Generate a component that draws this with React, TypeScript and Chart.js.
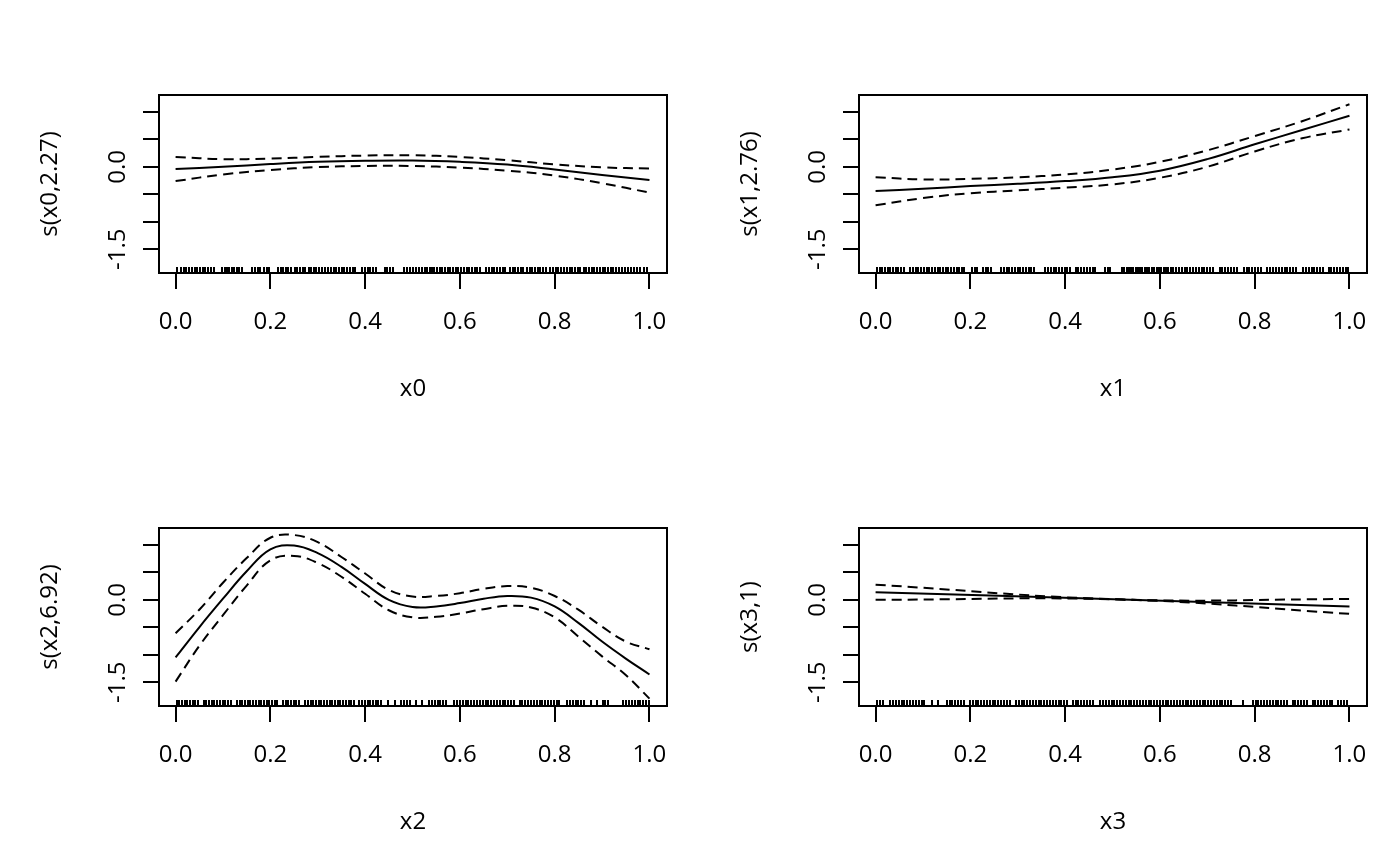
import React, { useEffect, useRef } from 'react';
import { Chart, registerables } from 'chart.js';

Chart.register(...registerables);

// ---------- data ----------
const X_TICKS = [0, 0.2, 0.4, 0.6, 0.8, 1.0];
const Y_TICKS = [-1.5, -1.0, -0.5, 0.0, 0.5, 1.0];
const Y_TICK_LABELS = ['-1.5', '', '', '0.0', '', ''];
const X_MIN = -0.035;
const X_MAX = 1.037;
const Y_MIN = -1.934;
const Y_MAX = 1.308;

// s(x0, 2.27)
const X0_GRID = [0, 0.1, 0.2, 0.3, 0.4, 0.5, 0.6, 0.7, 0.8, 0.9, 1.0];
const X0_FIT = [-0.04, 0.0, 0.05, 0.09, 0.11, 0.115, 0.09, 0.04, -0.05, -0.15, -0.24];
const X0_UPPER = [0.18, 0.14, 0.15, 0.18, 0.205, 0.21, 0.18, 0.12, 0.045, -0.01, -0.03];
const X0_LOWER = [-0.26, -0.14, -0.06, -0.005, 0.015, 0.015, -0.015, -0.07, -0.16, -0.3, -0.47];

// s(x1, 2.76)
const X1_GRID = [0, 0.1, 0.2, 0.3, 0.4, 0.5, 0.6, 0.7, 0.8, 0.9, 1.0];
const X1_FIT = [-0.44, -0.4, -0.35, -0.31, -0.26, -0.19, -0.07, 0.14, 0.41, 0.67, 0.93];
const X1_UPPER = [-0.19, -0.23, -0.22, -0.19, -0.14, -0.05, 0.09, 0.3, 0.56, 0.83, 1.14];
const X1_LOWER = [-0.7, -0.57, -0.48, -0.43, -0.38, -0.32, -0.2, 0.0, 0.28, 0.52, 0.68];

// s(x2, 6.92)
const X2_GRID = [0, 0.05, 0.1, 0.15, 0.2, 0.25, 0.3, 0.35, 0.4, 0.45, 0.5, 0.55, 0.6, 0.65, 0.7, 0.75, 0.8, 0.85, 0.9, 0.95, 1.0];
const X2_FIT = [-1.05, -0.5, 0.02, 0.52, 0.92, 0.99, 0.85, 0.6, 0.29, 0.0, -0.13, -0.12, -0.06, 0.02, 0.07, 0.04, -0.12, -0.42, -0.76, -1.07, -1.36];
const X2_UPPER = [-0.61, -0.18, 0.31, 0.76, 1.13, 1.18, 1.05, 0.78, 0.48, 0.18, 0.06, 0.07, 0.12, 0.2, 0.25, 0.22, 0.07, -0.18, -0.49, -0.76, -0.9];
const X2_LOWER = [-1.49, -0.84, -0.28, 0.26, 0.72, 0.8, 0.67, 0.42, 0.11, -0.19, -0.32, -0.31, -0.25, -0.17, -0.11, -0.14, -0.32, -0.67, -1.03, -1.37, -1.8];

// s(x3, 1)
const X3_GRID = [0, 0.52, 1.0];
const X3_FIT = [0.14, 0.005, -0.12];
const X3_UPPER = [0.275, 0.005, 0.015];
const X3_LOWER = [0.0, 0.005, -0.255];

// rug (observed covariate values)
const RUG_X0 = [0.004,0.011,0.018,0.022,0.029,0.035,0.041,0.046,0.052,0.058,0.063,0.069,0.074,0.081,0.097,0.104,0.109,0.113,0.118,0.124,0.129,0.134,0.14,0.162,0.168,0.173,0.179,0.186,0.192,0.198,0.216,0.222,0.227,0.233,0.238,0.244,0.251,0.257,0.262,0.268,0.274,0.281,0.286,0.292,0.297,0.303,0.309,0.316,0.321,0.327,0.334,0.339,0.345,0.351,0.356,0.362,0.369,0.374,0.379,0.394,0.399,0.405,0.411,0.417,0.422,0.441,0.447,0.452,0.458,0.482,0.489,0.495,0.502,0.508,0.513,0.519,0.526,0.531,0.537,0.541,0.546,0.552,0.558,0.563,0.569,0.574,0.579,0.585,0.591,0.597,0.602,0.608,0.614,0.619,0.625,0.631,0.636,0.642,0.655,0.661,0.667,0.672,0.678,0.684,0.69,0.696,0.705,0.711,0.716,0.722,0.729,0.734,0.741,0.747,0.752,0.758,0.764,0.77,0.776,0.781,0.791,0.797,0.803,0.808,0.814,0.819,0.826,0.832,0.837,0.843,0.849,0.854,0.861,0.866,0.872,0.878,0.884,0.889,0.895,0.901,0.907,0.913,0.918,0.924,0.93,0.936,0.942,0.948,0.954,0.961,0.967,0.973,0.981,0.988,0.995];
const RUG_X1 = [0.003,0.009,0.014,0.02,0.026,0.031,0.037,0.043,0.048,0.054,0.06,0.073,0.079,0.085,0.09,0.096,0.102,0.108,0.113,0.119,0.125,0.131,0.136,0.142,0.148,0.153,0.159,0.165,0.171,0.176,0.182,0.187,0.203,0.209,0.214,0.226,0.232,0.238,0.244,0.265,0.271,0.277,0.282,0.288,0.294,0.3,0.305,0.311,0.317,0.323,0.329,0.335,0.358,0.364,0.37,0.376,0.381,0.387,0.393,0.399,0.404,0.41,0.422,0.428,0.434,0.44,0.446,0.452,0.458,0.464,0.484,0.49,0.495,0.519,0.525,0.53,0.535,0.539,0.544,0.549,0.554,0.558,0.563,0.568,0.573,0.578,0.583,0.588,0.593,0.598,0.603,0.608,0.613,0.618,0.623,0.628,0.634,0.64,0.646,0.652,0.658,0.664,0.67,0.676,0.682,0.688,0.694,0.7,0.706,0.712,0.726,0.732,0.738,0.744,0.75,0.756,0.762,0.777,0.783,0.789,0.795,0.801,0.807,0.813,0.827,0.833,0.839,0.845,0.851,0.857,0.863,0.869,0.875,0.881,0.887,0.902,0.908,0.914,0.92,0.926,0.932,0.938,0.944,0.956,0.962,0.968,0.974,0.98,0.986,0.992,0.997];
const RUG_X2 = [0.002,0.008,0.013,0.019,0.024,0.03,0.036,0.041,0.047,0.059,0.065,0.07,0.076,0.082,0.088,0.093,0.099,0.105,0.11,0.116,0.129,0.135,0.141,0.146,0.152,0.158,0.163,0.169,0.175,0.18,0.186,0.192,0.198,0.203,0.209,0.214,0.226,0.232,0.238,0.243,0.249,0.255,0.26,0.273,0.279,0.285,0.29,0.296,0.302,0.307,0.313,0.319,0.325,0.33,0.336,0.342,0.347,0.353,0.359,0.365,0.37,0.376,0.388,0.394,0.399,0.405,0.411,0.417,0.422,0.428,0.434,0.448,0.462,0.476,0.482,0.488,0.494,0.507,0.521,0.535,0.541,0.547,0.553,0.559,0.565,0.571,0.588,0.594,0.6,0.606,0.612,0.618,0.624,0.63,0.636,0.642,0.648,0.654,0.66,0.666,0.672,0.678,0.684,0.69,0.696,0.702,0.708,0.714,0.726,0.732,0.738,0.744,0.75,0.756,0.762,0.768,0.774,0.78,0.786,0.792,0.798,0.804,0.81,0.826,0.832,0.838,0.844,0.85,0.856,0.862,0.876,0.889,0.901,0.907,0.913,0.945,0.951,0.957,0.963,0.969,0.975,0.981,0.987,0.993,0.998];
const RUG_X3 = [0.004,0.01,0.016,0.031,0.037,0.043,0.049,0.055,0.061,0.067,0.073,0.079,0.085,0.091,0.097,0.103,0.118,0.132,0.15,0.156,0.162,0.168,0.174,0.18,0.186,0.199,0.205,0.211,0.217,0.223,0.229,0.235,0.241,0.247,0.253,0.259,0.265,0.271,0.277,0.283,0.296,0.302,0.308,0.314,0.32,0.326,0.332,0.338,0.344,0.35,0.356,0.362,0.368,0.374,0.38,0.386,0.392,0.398,0.404,0.416,0.422,0.428,0.434,0.44,0.446,0.452,0.458,0.474,0.48,0.486,0.492,0.498,0.504,0.51,0.516,0.522,0.528,0.534,0.54,0.546,0.552,0.558,0.564,0.57,0.576,0.582,0.588,0.594,0.6,0.606,0.612,0.618,0.624,0.63,0.636,0.642,0.648,0.654,0.66,0.666,0.672,0.678,0.684,0.69,0.696,0.702,0.708,0.714,0.72,0.726,0.732,0.738,0.744,0.75,0.776,0.796,0.802,0.808,0.814,0.82,0.826,0.832,0.838,0.844,0.85,0.856,0.862,0.868,0.88,0.886,0.892,0.898,0.904,0.91,0.922,0.928,0.934,0.94,0.946,0.952,0.958,0.964,0.976,0.982,0.988,0.994];

const X_TITLES = ['x0', 'x1', 'x2', 'x3'];
const Y_TITLES = ['s(x0,2.27)', 's(x1,2.76)', 's(x2,6.92)', 's(x3,1)'];

const PANELS = [
  { grid: X0_GRID, fit: X0_FIT, upper: X0_UPPER, lower: X0_LOWER, rug: RUG_X0 },
  { grid: X1_GRID, fit: X1_FIT, upper: X1_UPPER, lower: X1_LOWER, rug: RUG_X1 },
  { grid: X2_GRID, fit: X2_FIT, upper: X2_UPPER, lower: X2_LOWER, rug: RUG_X2 },
  { grid: X3_GRID, fit: X3_FIT, upper: X3_UPPER, lower: X3_LOWER, rug: RUG_X3 },
];

// ---------- style ----------
const FONT_FAMILY = "'Open Sans', 'Noto Sans', sans-serif";
const FONT_SIZE = 24;
const CELL_W = 700;
const CELL_H = 433;

type PanelProps = { index: number };

function Panel({ index }: PanelProps) {
  const ref = useRef<HTMLCanvasElement | null>(null);

  useEffect(() => {
    const canvas = ref.current;
    if (!canvas) return;
    const p = PANELS[index];
    const toPts = (ys: number[]) => p.grid.map((x, i) => ({ x, y: ys[i] }));

    const framePlugin = {
      id: 'rFrame',
      afterDraw(chart: any) {
        const { ctx, chartArea } = chart;
        const xs = chart.scales.x;
        const ys = chart.scales.y;
        ctx.save();
        // rug
        ctx.strokeStyle = '#000';
        ctx.lineWidth = 2;
        ctx.beginPath();
        for (const v of p.rug) {
          const px = Math.round(xs.getPixelForValue(v));
          ctx.moveTo(px, chartArea.bottom);
          ctx.lineTo(px, chartArea.bottom - 6);
        }
        ctx.stroke();
        // box
        ctx.lineWidth = 2;
        ctx.strokeRect(chartArea.left, chartArea.top, chartArea.right - chartArea.left, chartArea.bottom - chartArea.top);
        // rotated y tick labels
        ctx.fillStyle = '#000';
        ctx.font = `${FONT_SIZE}px ${FONT_FAMILY}`;
        ctx.textAlign = 'center';
        ctx.textBaseline = 'middle';
        Y_TICKS.forEach((v, i) => {
          const label = Y_TICK_LABELS[i];
          if (!label) return;
          const py = ys.getPixelForValue(v);
          ctx.save();
          ctx.translate(chartArea.left - 41, py);
          ctx.rotate(-Math.PI / 2);
          ctx.fillText(label, 0, 0);
          ctx.restore();
        });
        ctx.restore();
      },
    };

    const line = (ys: number[], dashed: boolean) => ({
      data: toPts(ys),
      borderColor: '#000',
      borderWidth: 2,
      borderDash: dashed ? [10, 6] : [],
      pointRadius: 0,
      tension: 0.4,
      fill: false,
    });

    const font = { family: FONT_FAMILY, size: FONT_SIZE };

    const chart = new Chart(canvas, {
      type: 'line',
      data: {
        datasets: [line(p.fit, false), line(p.upper, true), line(p.lower, true)],
      },
      options: {
        responsive: false,
        animation: false,
        events: [],
        layout: { padding: { top: 95, right: 33, left: 0, bottom: 0 } },
        plugins: { legend: { display: false }, tooltip: { enabled: false } },
        scales: {
          x: {
            type: 'linear',
            position: 'bottom',
            min: X_MIN,
            max: X_MAX,
            afterBuildTicks: (s: any) => {
              s.ticks = X_TICKS.map((value) => ({ value }));
            },
            afterFit: (s: any) => {
              s.height = 160;
            },
            grid: { drawOnChartArea: false, drawTicks: true, tickLength: 16, color: '#000', lineWidth: 2 },
            border: { display: false },
            ticks: {
              color: '#000',
              font,
              padding: 19,
              maxRotation: 0,
              autoSkip: false,
              callback: (v: any) => Number(v).toFixed(1),
            },
            title: { display: true, text: X_TITLES[index], color: '#000', font, padding: { top: 0, bottom: 29.6 } },
          },
          y: {
            type: 'linear',
            position: 'left',
            min: Y_MIN,
            max: Y_MAX,
            afterBuildTicks: (s: any) => {
              s.ticks = Y_TICKS.map((value) => ({ value }));
            },
            afterFit: (s: any) => {
              s.width = 159;
            },
            grid: { drawOnChartArea: false, drawTicks: true, tickLength: 16, color: '#000', lineWidth: 2 },
            border: { display: false },
            ticks: { display: false },
            title: { display: true, text: Y_TITLES[index], color: '#000', font, padding: { top: 36, bottom: 0 } },
          },
        },
      },
      plugins: [framePlugin],
    } as any);

    return () => chart.destroy();
  }, [index]);

  return <canvas ref={ref} width={CELL_W} height={CELL_H} style={{ display: 'block', width: CELL_W, height: CELL_H }} />;
}

export default function App() {
  return (
    <div style={{ position: 'absolute', left: 0, top: 0, width: CELL_W * 2, height: CELL_H * 2, background: '#fff' }}>
      {PANELS.map((_, i) => (
        <div
          key={i}
          style={{ position: 'absolute', left: (i % 2) * CELL_W, top: Math.floor(i / 2) * CELL_H, width: CELL_W, height: CELL_H }}
        >
          <Panel index={i} />
        </div>
      ))}
    </div>
  );
}
